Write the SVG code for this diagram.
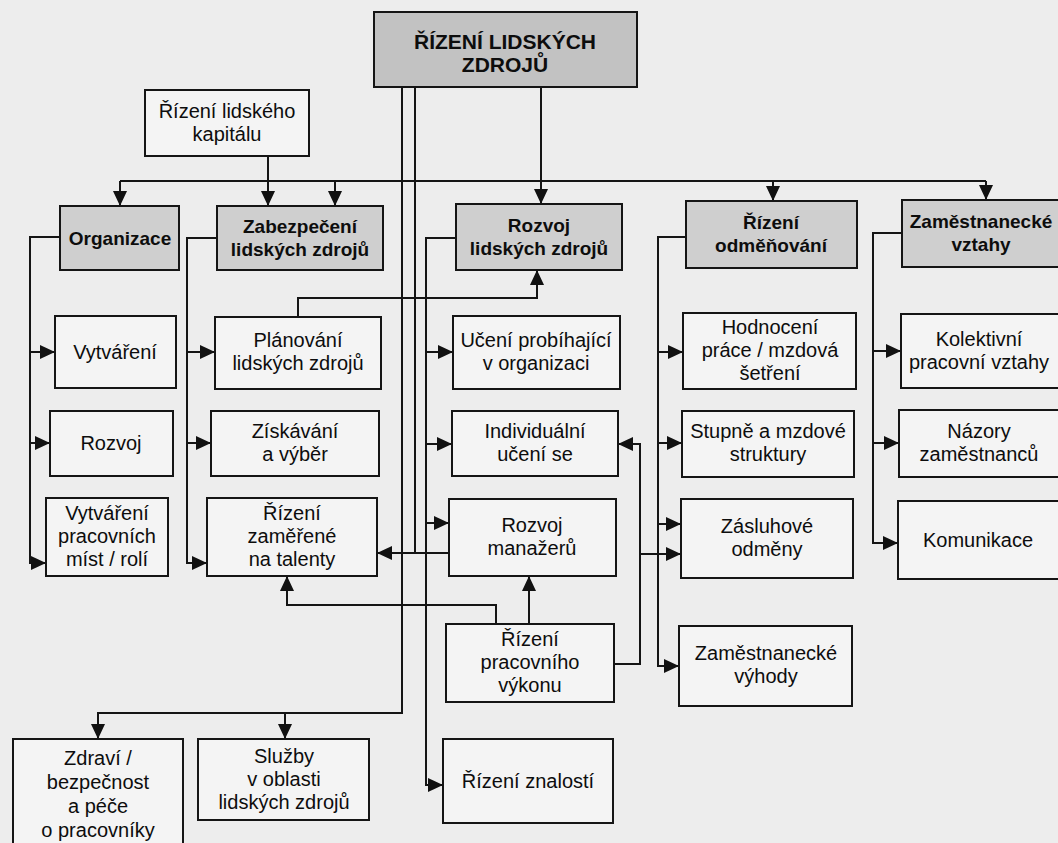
<svg xmlns="http://www.w3.org/2000/svg" width="1058" height="843" viewBox="0 0 1058 843">
<defs>
<marker id="ah" viewBox="0 0 15 14" refX="15" refY="7" markerWidth="15" markerHeight="14" markerUnits="userSpaceOnUse" orient="auto">
<path d="M0,0 L15,7 L0,14 z" fill="#111"/>
</marker>
<style>
.bx{fill:#f4f4f4;stroke:#151515;stroke-width:2}
.gr{fill:#cfcfcf;stroke:#151515;stroke-width:2}
.top{fill:#c2c2c2;stroke:#151515;stroke-width:2}
text{font-family:"Liberation Sans",Arial,sans-serif;font-size:20px;fill:#0d0d0d;text-anchor:middle}
.b{font-weight:bold;font-size:19px}
.t{font-weight:bold;font-size:21px}
#connectors path{fill:none;stroke:#151515;stroke-width:2}
.a{marker-end:url(#ah)}
</style>
</defs>
<rect x="0" y="0" width="1058" height="843" fill="#ededed"/>

<g id="connectors">
<path class="a" d="M541,87 V204"/>
<path d="M120,181 H986"/>
<path class="a" d="M120,181 V206"/>
<path class="a" d="M335,181 V206"/>
<path class="a" d="M773,181 V201"/>
<path class="a" d="M986,181 V200"/>
<path class="a" d="M268,156 V206"/>
<path class="a" d="M60,237 H30 V563 H46"/>
<path class="a" d="M30,352 H55"/>
<path class="a" d="M30,443 H50"/>
<path class="a" d="M217,238 H187 V563 H207"/>
<path class="a" d="M187,352 H215"/>
<path class="a" d="M187,443 H211"/>
<path class="a" d="M298,317 V298 H537 V270"/>
<path class="a" d="M402,87 V713 H98 V739"/>
<path class="a" d="M285,713 V739"/>
<path d="M415,87 V553"/>
<path class="a" d="M449,553 H377"/>
<path class="a" d="M456,238 H426 V785 H443"/>
<path class="a" d="M426,352 H453"/>
<path class="a" d="M426,444 H452"/>
<path class="a" d="M426,523 H449"/>
<path class="a" d="M529,624 V576"/>
<path class="a" d="M496,624 V605 H287 V576"/>
<path class="a" d="M614,664 H640 V444 H618"/>
<path class="a" d="M640,554 H681"/>
<path class="a" d="M686,237 H658 V666 H679"/>
<path class="a" d="M658,352 H683"/>
<path class="a" d="M658,443 H682"/>
<path class="a" d="M658,524 H681"/>
<path class="a" d="M902,233 H873 V543 H898"/>
<path class="a" d="M873,351 H901"/>
<path class="a" d="M873,443 H899"/>
</g>

<g id="n-rlz"><rect class="top" x="374" y="12" width="263" height="75"/>
<text class="t" x="505" y="49">ŘÍZENÍ LIDSKÝCH</text><text class="t" x="505" y="72">ZDROJŮ</text></g>

<g id="n-kapital"><rect class="bx" x="145" y="90" width="164" height="66"/>
<text x="227" y="118">Řízení lidského</text><text x="227" y="141">kapitálu</text></g>

<g id="n-organizace"><rect class="gr" x="60" y="206" width="119" height="64"/>
<text class="b" x="120" y="245">Organizace</text></g>

<g id="n-zabezpeceni"><rect class="gr" x="217" y="206" width="166" height="64"/>
<text class="b" x="300" y="233">Zabezpečení</text><text class="b" x="300" y="256">lidských zdrojů</text></g>

<g id="n-rozvojlz"><rect class="gr" x="456" y="204" width="166" height="66"/>
<text class="b" x="539" y="232">Rozvoj</text><text class="b" x="539" y="255">lidských zdrojů</text></g>

<g id="n-odmenovani"><rect class="gr" x="686" y="201" width="171" height="67"/>
<text class="b" x="771" y="229">Řízení</text><text class="b" x="771" y="252">odměňování</text></g>

<g id="n-vztahy"><rect class="gr" x="902" y="200" width="162" height="67"/>
<text class="b" x="981" y="228">Zaměstnanecké</text><text class="b" x="981" y="251">vztahy</text></g>

<g id="n-vytvareni"><rect class="bx" x="55" y="316" width="121" height="72"/>
<text x="115" y="359">Vytváření</text></g>

<g id="n-rozvoj"><rect class="bx" x="50" y="411" width="123" height="65"/>
<text x="111" y="450">Rozvoj</text></g>

<g id="n-mista"><rect class="bx" x="46" y="498" width="122" height="78"/>
<text x="107" y="520">Vytváření</text><text x="107" y="543">pracovních</text><text x="107" y="566">míst / rolí</text></g>

<g id="n-planovani"><rect class="bx" x="215" y="317" width="166" height="72"/>
<text x="298" y="347">Plánování</text><text x="298" y="370">lidských zdrojů</text></g>

<g id="n-ziskavani"><rect class="bx" x="211" y="411" width="168" height="65"/>
<text x="295" y="438">Získávání</text><text x="295" y="461">a výběr</text></g>

<g id="n-talenty"><rect class="bx" x="207" y="498" width="170" height="78"/>
<text x="292" y="520">Řízení</text><text x="292" y="543">zaměřené</text><text x="292" y="566">na talenty</text></g>

<g id="n-uceni-org"><rect class="bx" x="453" y="316" width="167" height="73"/>
<text x="536" y="347">Učení probíhající</text><text x="536" y="370">v organizaci</text></g>

<g id="n-individualni"><rect class="bx" x="452" y="411" width="166" height="65"/>
<text x="535" y="438">Individuální</text><text x="535" y="461">učení se</text></g>

<g id="n-manazeri"><rect class="bx" x="449" y="499" width="167" height="77"/>
<text x="532" y="532">Rozvoj</text><text x="532" y="555">manažerů</text></g>

<g id="n-vykon"><rect class="bx" x="446" y="624" width="168" height="78"/>
<text x="530" y="646">Řízení</text><text x="530" y="669">pracovního</text><text x="530" y="692">výkonu</text></g>

<g id="n-znalosti"><rect class="bx" x="443" y="739" width="170" height="84"/>
<text x="528" y="788">Řízení znalostí</text></g>

<g id="n-hodnoceni"><rect class="bx" x="683" y="313" width="173" height="76"/>
<text x="770" y="334">Hodnocení</text><text x="770" y="357">práce / mzdová</text><text x="770" y="380">šetření</text></g>

<g id="n-stupne"><rect class="bx" x="682" y="411" width="172" height="66"/>
<text x="768" y="438">Stupně a mzdové</text><text x="768" y="461">struktury</text></g>

<g id="n-zasluhove"><rect class="bx" x="681" y="499" width="172" height="79"/>
<text x="767" y="533">Zásluhové</text><text x="767" y="556">odměny</text></g>

<g id="n-vyhody"><rect class="bx" x="679" y="626" width="173" height="80"/>
<text x="766" y="660">Zaměstnanecké</text><text x="766" y="683">výhody</text></g>

<g id="n-kolektivni"><rect class="bx" x="901" y="314" width="165" height="74"/>
<text x="979" y="346">Kolektivní</text><text x="979" y="369">pracovní vztahy</text></g>

<g id="n-nazory"><rect class="bx" x="899" y="410" width="167" height="67"/>
<text x="979" y="438">Názory</text><text x="979" y="461">zaměstnanců</text></g>

<g id="n-komunikace"><rect class="bx" x="898" y="501" width="168" height="78"/>
<text x="978" y="547">Komunikace</text></g>

<g id="n-zdravi"><rect class="bx" x="13" y="739" width="170" height="112"/>
<text x="98" y="765">Zdraví /</text><text x="98" y="789">bezpečnost</text><text x="98" y="813">a péče</text><text x="98" y="837">o pracovníky</text></g>

<g id="n-sluzby"><rect class="bx" x="198" y="739" width="171" height="81"/>
<text x="284" y="763">Služby</text><text x="284" y="786">v oblasti</text><text x="284" y="809">lidských zdrojů</text></g>
</svg>
